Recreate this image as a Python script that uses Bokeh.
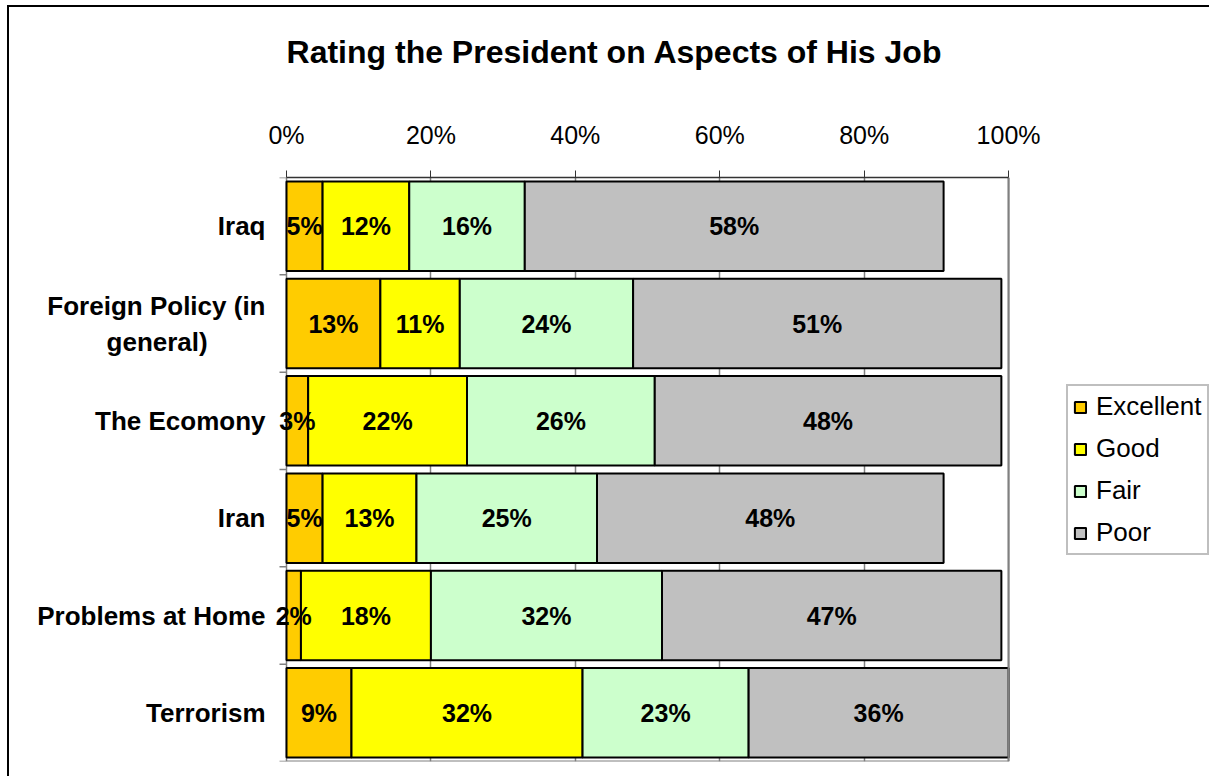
from bokeh.plotting import figure
from bokeh.models import (Range1d, FixedTicker, PrintfTickFormatter, ColumnDataSource,
                          LinearAxis)
from bokeh.core.properties import value
from bokeh.embed import file_html
from bokeh.resources import INLINE

title_text = "Rating the President on Aspects of His Job"
categories = ["Iraq", "Foreign Policy (in\ngeneral)" + "\u00a0" * 8, "The Ecomony", "Iran",
              "Problems at Home", "Terrorism"]
series = ["Excellent", "Good", "Fair", "Poor"]
excellent = [5, 13, 3, 5, 2, 9]
good = [12, 11, 22, 13, 18, 32]
fair = [16, 24, 26, 25, 32, 23]
poor = [58, 51, 48, 48, 47, 36]
colors = ["#FFCC00", "#FFFF00", "#CCFFCC", "#C0C0C0"]
x_ticks = [0, 20, 40, 60, 80, 100]

FONT = "Liberation Sans"
n = len(categories)
ypos = list(range(n))
PX = 7.221  # pixels per percent on the x axis

source = ColumnDataSource({"y": ypos, "Excellent": excellent, "Good": good,
                           "Fair": fair, "Poor": poor})

# frame extends a little left of 0% (for small labels) and past 100% (for legend)
p = figure(width=1202, height=771,
           x_range=Range1d(-11 / PX, 128.1), y_range=Range1d(n - 0.5, -0.5),
           x_axis_location="above", output_backend="svg", toolbar_location=None,
           min_border_left=266, min_border_right=0, min_border_top=170,
           min_border_bottom=17)
p.styles = {"border-left": "2px solid black", "border-top": "2px solid black",
            "margin-left": "7px", "margin-top": "5px"}
p.background_fill_color = "white"
p.border_fill_color = "white"
p.outline_line_color = None

p.hbar_stack(series, y="y", height=0.92, color=colors, source=source,
             line_color="black", line_width=2, legend_label=series)

# plot-area border (right and bottom), grey
xmax = x_ticks[-1]
p.segment(x0=[xmax, 0], y0=[-0.5, n - 0.5], x1=[xmax, xmax], y1=[n - 0.5, n - 0.5],
          line_color="#808080", line_width=2)
# category boundary ticks on the left axis
bounds = [i - 0.5 for i in range(n + 1)]
p.segment(x0=[-7 / PX] * len(bounds), y0=bounds, x1=[0] * len(bounds), y1=bounds,
          line_color="#808080", line_width=1.5)

# data labels
lx, ly, lt = [], [], []
cols = [excellent, good, fair, poor]
for i in range(n):
    left = 0
    for s in cols:
        v = s[i]
        lx.append(left + v / 2)
        ly.append(ypos[i])
        lt.append(f"{v}%")
        left += v
p.text(x=lx, y=ly, text=lt, text_font=value(FONT), text_font_style="bold",
       text_font_size="25px", text_align="center", text_baseline="middle",
       text_color="black")

xa = p.xaxis[0]
xa.ticker = FixedTicker(ticks=x_ticks, minor_ticks=[])
xa.formatter = PrintfTickFormatter(format="%d%%")
xa.bounds = (x_ticks[0], x_ticks[-1])
xa.major_label_text_font = FONT
xa.major_label_text_font_size = "25px"
xa.major_label_text_color = "black"
xa.major_tick_out = 7
xa.major_tick_in = 0
xa.minor_tick_out = 0
xa.minor_tick_in = 0
xa.axis_line_color = "#333333"
xa.axis_line_width = 1.5
xa.major_tick_line_color = "#333333"
xa.major_label_standoff = 22

# chart title, carried by a bare axis above the percentage axis
# (trailing non-breaking spaces shift the centred label to the left)
ta = LinearAxis(ticker=FixedTicker(ticks=[], minor_ticks=[]),
                axis_label=title_text + "\u00a0" * 29, axis_line_color=None,
                major_tick_line_color=None, minor_tick_line_color=None,
                major_tick_out=0, major_tick_in=0, minor_tick_out=0, minor_tick_in=0,
                major_label_standoff=0, axis_label_standoff=48,
                axis_label_text_font=FONT, axis_label_text_font_size="32px",
                axis_label_text_font_style="bold", axis_label_text_color="black")
p.add_layout(ta, "above")

ya = p.yaxis[0]
ya.ticker = FixedTicker(ticks=ypos, minor_ticks=[])
ya.major_label_overrides = {i: c for i, c in zip(ypos, categories)}
ya.major_label_text_font = FONT
ya.major_label_text_font_size = "26px"
ya.major_label_text_font_style = "bold"
ya.major_label_text_color = "black"
ya.major_tick_out = 0
ya.major_tick_in = 0
ya.minor_tick_out = 0
ya.minor_tick_in = 0
ya.axis_line_color = None
ya.major_label_standoff = 10

# vertical grid lines (the 0% one doubles as the left axis line)
p.xgrid.grid_line_color = "#808080"
p.xgrid.grid_line_width = 1.5
p.ygrid.grid_line_color = None

lg = p.legend[0]
lg.location = (791, 206)
lg.label_text_font = FONT
lg.label_text_font_size = "26px"
lg.label_text_color = "black"
lg.glyph_width = 14
lg.glyph_height = 14
lg.label_height = 29
lg.spacing = 11
lg.padding = 5
lg.label_standoff = 9
lg.border_line_color = "#808080"
lg.border_line_width = 2
lg.background_fill_color = "white"
lg.background_fill_alpha = 1
lg.margin = 0

open("out.html", "w").write(file_html(p, INLINE))
